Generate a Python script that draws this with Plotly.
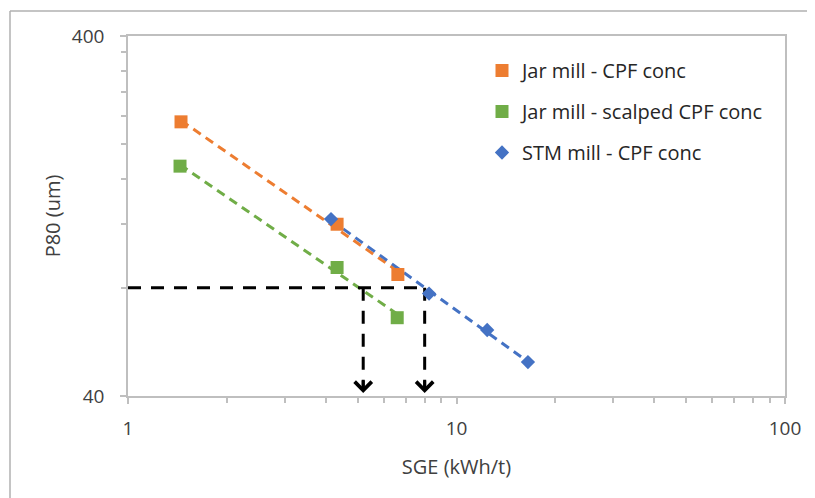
import numpy as np
import plotly.graph_objects as go

# ---- data ----
jar_x = [1.45, 4.33, 6.63]
jar_y = [231, 120, 87]
scalped_x = [1.44, 4.33, 6.6]
scalped_y = [174, 91, 66]
stm_x = [4.15, 8.25, 12.4, 16.5]
stm_y = [124, 77, 61, 49.7]

target_p80 = 80
target_sge = [5.2, 8.0]
arrow_tip_y = 40.8

x_tickvals = [1, 10, 100]
x_ticktext = ["1", "10", "100"]
y_tickvals = [40, 400]
y_ticktext = ["40", "400"]
x_minor = [2, 3, 4, 5, 6, 7, 8, 9, 20, 30, 40, 50, 60, 70, 80, 90]
y_minor = [80, 120, 160, 200, 240, 280, 320, 360]

names = ["Jar mill - CPF conc", "Jar mill - scalped CPF conc", "STM mill - CPF conc"]
colors = ["#ED7D31", "#70AD47", "#4472C4"]
symbols = ["square", "square", "diamond"]
sizes = [13, 13, 11]

FONT = "Open Sans"
TXT = "#404040"
GRAY = "#BFBFBF"


def power_fit(xs, ys):
    b, a = np.polyfit(np.log10(xs), np.log10(ys), 1)
    xx = np.array([min(xs), max(xs)])
    return xx, 10 ** (a + b * np.log10(xx))


fig = go.Figure()

series = [(jar_x, jar_y), (scalped_x, scalped_y), (stm_x, stm_y)]

# trendlines
for (xs, ys), c in zip(series, colors):
    tx, ty = power_fit(xs, ys)
    fig.add_trace(go.Scatter(x=tx, y=ty, mode="lines",
                             line=dict(color=c, width=3, dash="9px,6px"),
                             showlegend=False, hoverinfo="skip"))

# reference lines
fig.add_trace(go.Scatter(x=[1, target_sge[1]], y=[target_p80, target_p80], mode="lines",
                         line=dict(color="black", width=3, dash="13px,10px"),
                         showlegend=False, hoverinfo="skip"))
for sx in target_sge:
    fig.add_trace(go.Scatter(x=[sx, sx], y=[target_p80, arrow_tip_y + 1.2], mode="lines",
                             line=dict(color="black", width=3, dash="13px,10px"),
                             showlegend=False, hoverinfo="skip"))

# markers
for (xs, ys), n, c, s, sz in zip(series, names, colors, symbols, sizes):
    fig.add_trace(go.Scatter(x=xs, y=ys, mode="markers", name=n, legendgroup=n,
                             marker=dict(color=c, symbol=s, size=sz)))

for sx in target_sge:
    fig.add_annotation(x=np.log10(sx), y=np.log10(arrow_tip_y), xref="x", yref="y",
                       ax=0, ay=-14, axref="pixel", ayref="pixel", text="",
                       showarrow=True, arrowhead=4, arrowsize=1.1, arrowwidth=3,
                       arrowcolor="black")

SH = 8  # page body offset
W, H = 815, 498
L, T = 128 - SH, 36 - SH
pw, ph = 657, 360
R = W - L - pw
B = H - T - ph


def px(xs):
    return (xs - SH - L) / pw


def py(ys):
    return (T + ph - (ys - SH)) / ph


# outer chart border (top and left visible)
fig.add_shape(type="line", xref="paper", yref="paper", x0=px(10), x1=px(830), y0=py(11), y1=py(11),
              line=dict(color="#B0B0B0", width=1.5))
fig.add_shape(type="line", xref="paper", yref="paper", x0=px(10), x1=px(10), y0=py(11), y1=py(520),
              line=dict(color="#B0B0B0", width=1.5))

fig.update_layout(
    width=W, height=H,
    margin=dict(l=L, r=R, t=T, b=B),
    paper_bgcolor="white", plot_bgcolor="white",
    font=dict(family=FONT, size=20, color=TXT),
    showlegend=True,
    legend=dict(x=px(482), y=py(51), xanchor="left", yanchor="top",
                font=dict(family=FONT, size=20, color="#262626"),
                tracegroupgap=12, traceorder="grouped",
                bgcolor="rgba(0,0,0,0)"),
)
fig.update_xaxes(type="log", range=[0, 2], tickvals=x_tickvals, ticktext=x_ticktext,
                 ticks="outside", ticklen=6, tickcolor=GRAY, tickwidth=1.5,
                 tickfont=dict(size=19, color=TXT),
                 showline=True, linecolor=GRAY, linewidth=1.5, mirror=True,
                 showgrid=False, zeroline=False,
                 minor=dict(tickvals=x_minor, ticks="outside", ticklen=5, tickcolor=GRAY,
                            tickwidth=1.5, showgrid=False),
                 ticklabelstandoff=8,
                 title=dict(text="SGE (kWh/t)", standoff=20, font=dict(size=20, color=TXT)))
fig.update_yaxes(type="log", range=[np.log10(40), np.log10(400)], tickvals=y_tickvals,
                 ticktext=y_ticktext,
                 ticks="outside", ticklen=6, tickcolor=GRAY, tickwidth=1.5,
                 tickfont=dict(size=19, color=TXT),
                 showline=True, linecolor=GRAY, linewidth=1.5, mirror=True,
                 showgrid=False, zeroline=False,
                 minor=dict(tickvals=y_minor, ticks="outside", ticklen=5, tickcolor=GRAY,
                            tickwidth=1.5, showgrid=False),
                 ticklabelstandoff=12,
                 title=dict(text="P80 (um)", standoff=6, font=dict(size=20, color=TXT)))

fig.write_html("out.html")
